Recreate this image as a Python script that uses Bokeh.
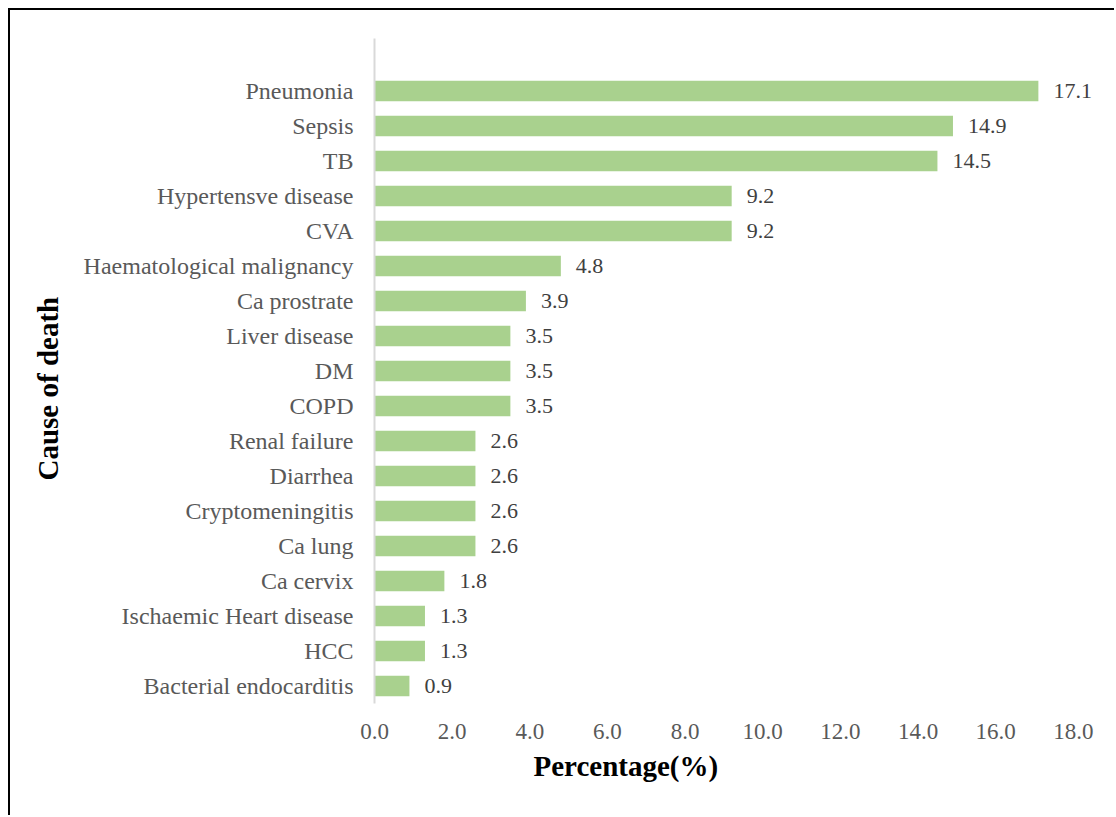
from bokeh.plotting import figure
from bokeh.models import Range1d, FixedTicker, Title, ColumnDataSource
from bokeh.embed import file_html
from bokeh.resources import INLINE

# Causes of death, top of chart first
causes = [
    "Pneumonia", "Sepsis", "TB", "Hypertensve disease", "CVA",
    "Haematological malignancy", "Ca prostrate", "Liver disease", "DM",
    "COPD", "Renal failure", "Diarrhea", "Cryptomeningitis", "Ca lung",
    "Ca cervix", "Ischaemic Heart disease", "HCC", "Bacterial endocarditis",
]
percent = [17.1, 14.9, 14.5, 9.2, 9.2, 4.8, 3.9, 3.5, 3.5, 3.5,
           2.6, 2.6, 2.6, 2.6, 1.8, 1.3, 1.3, 0.9]
x_ticks = [0, 2, 4, 6, 8, 10, 12, 14, 16, 18]

FONT = "Liberation Serif"
n = len(causes)
ypos = [n - 1 - i for i in range(n)]

src = ColumnDataSource(dict(
    y=ypos, v=percent, lab=[f"{v:.1f}" for v in percent],
))

# frame runs a little past 18 so the end labels are not cut off
p = figure(
    width=1106, height=807,
    x_range=Range1d(0, 18.7), y_range=Range1d(-0.5, n + 0.5),
    output_backend="svg", toolbar_location=None,
    min_border_left=364, min_border_right=16,
    min_border_top=28, min_border_bottom=114,
)
p.styles = {
    "margin-top": "8px", "margin-left": "8px",
    "border-top": "2px solid black", "border-left": "2px solid black",
}
p.outline_line_color = None
p.grid.visible = False

p.hbar(y="y", right="v", left=0, height=0.58, source=src,
       fill_color="#A9D18E", line_color=None)

p.text(x="v", y="y", text="lab", source=src, x_offset=15,
       text_baseline="middle", text_align="left",
       text_font=FONT, text_font_size="22px", text_color="#404040")

# y axis: cause names
p.yaxis.ticker = FixedTicker(ticks=ypos)
p.yaxis.major_label_overrides = {y: c for y, c in zip(ypos, causes)}
p.yaxis.major_tick_line_color = None
p.yaxis.minor_tick_line_color = None
p.yaxis.axis_line_color = "#D9D9D9"
p.yaxis.axis_line_width = 2
p.yaxis.major_label_standoff = 15
p.yaxis.major_label_text_font = FONT
p.yaxis.major_label_text_font_size = "24px"
p.yaxis.major_label_text_color = "#595959"

# x axis: percentages
p.xaxis.ticker = FixedTicker(ticks=x_ticks)
p.xaxis.major_label_overrides = {t: f"{t:.1f}" for t in x_ticks}
p.xaxis.axis_line_color = None
p.xaxis.major_tick_line_color = None
p.xaxis.minor_tick_line_color = None
p.xaxis.major_label_standoff = 14
p.xaxis.major_label_text_font = FONT
p.xaxis.major_label_text_font_size = "23px"
p.xaxis.major_label_text_color = "#595959"

p.add_layout(Title(text="Percentage(%)", align="left", offset=159,
                   text_font=FONT, text_font_size="29px",
                   text_font_style="bold", text_color="black",
                   standoff=12), "below")
p.add_layout(Title(text="Cause of death", align="left", offset=223,
                   text_font=FONT, text_font_size="29px",
                   text_font_style="bold", text_color="black",
                   standoff=34), "left")

open("out.html", "w").write(file_html(p, INLINE))
